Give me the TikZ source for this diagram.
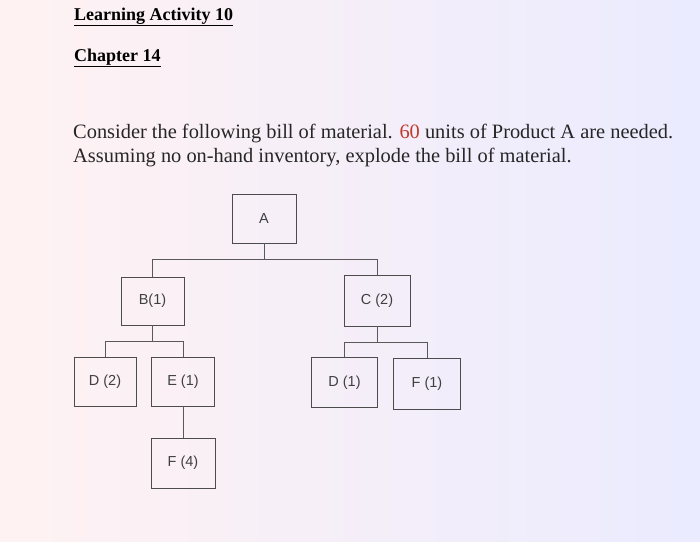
\documentclass[tikz,border=0pt]{standalone}
\usepackage{fontspec}
\setmainfont{Liberation Serif}
\newfontfamily\boxfont{Liberation Sans}
\begin{document}
\begin{tikzpicture}[x=1pt,y=-1pt,
  bom/.style={draw=black!70, line width=0.9pt, inner sep=0pt, font=\boxfont\fontsize{14.5}{17}\selectfont, text=black!75},
  link/.style={draw=black!65, line width=0.9pt},
  heading/.style={anchor=base west, inner sep=0pt, font=\bfseries\fontsize{18}{21}\selectfont},
  para/.style={anchor=base west, inner sep=0pt, align=left, font=\fontsize{20.4}{24}\selectfont, text=black!85}]
\fill[left color=pink!20, right color=blue!8] (0,0) rectangle (700,541);
\useasboundingbox (0,0) rectangle (700,541);
% headings
\node[heading] (h1) at (74,20) {\underline{Learning Activity 10}};
\node[heading] (h2) at (74,61) {\underline{Chapter 14}};
\node[para] (p) at (73,162) {Consider the following bill of material. \textcolor[HTML]{C0392B}{60} units of Product A are needed.\\Assuming no on-hand inventory, explode the bill of material.};
% boxes
\node[bom, minimum width=64pt, minimum height=49pt] (A) at (264,218.5) {A};
\node[bom, minimum width=63pt, minimum height=48pt] (B) at (152.5,301) {B(1)};
\node[bom, minimum width=66pt, minimum height=51pt] (C) at (377,300.5) {C (2)};
\node[bom, minimum width=62pt, minimum height=49pt] (D2) at (105,381.5) {D (2)};
\node[bom, minimum width=63pt, minimum height=49pt] (E) at (183,381.5) {E (1)};
\node[bom, minimum width=64pt, minimum height=50pt] (F4) at (183,463) {F (4)};
\node[bom, minimum width=66pt, minimum height=50pt] (D1) at (344.5,382.5) {D (1)};
\node[bom, minimum width=67pt, minimum height=51pt] (F1) at (427,383.5) {F (1)};
% connectors
\coordinate (jA) at (264,259);
\coordinate (jB) at (152.5,341);
\coordinate (jC) at (377,342);
\draw[link] (A.south) -- (jA);
\draw[link] (jA) -| (B.north);
\draw[link] (jA) -| (C.north);
\draw[link] (B.south) -- (jB);
\draw[link] (jB) -| (D2.north);
\draw[link] (jB) -| (E.north);
\draw[link] (E.south) -- (F4.north);
\draw[link] (C.south) -- (jC);
\draw[link] (jC) -| (D1.north);
\draw[link] (jC) -| (F1.north);
\end{tikzpicture}
\end{document}
